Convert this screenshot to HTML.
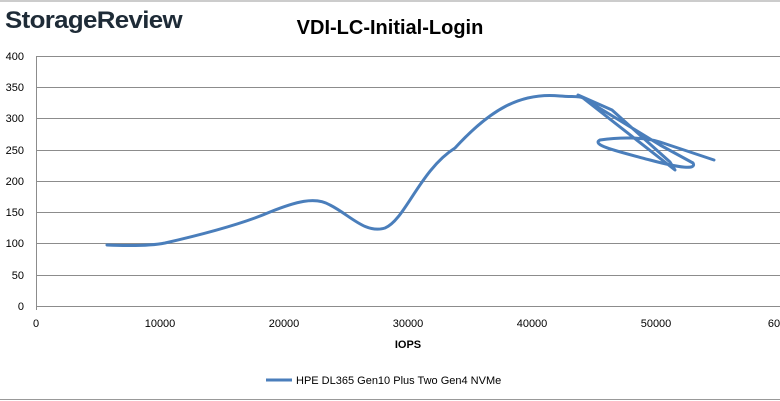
<!DOCTYPE html>
<html><head><meta charset="utf-8"><style>
body{margin:0;background:#fff;}
svg{display:block;font-family:"Liberation Sans",sans-serif;}
</style></head><body>
<svg width="780" height="401" viewBox="0 0 780 401">
<rect width="780" height="401" fill="#fff"/>
<line x1="0" y1="1" x2="780" y2="1" stroke="#999" stroke-width="1"/>
<line x1="0" y1="399.5" x2="780" y2="399.5" stroke="#999" stroke-width="1"/>
<text x="5" y="28" font-size="24" font-weight="bold" fill="#1e2b37" letter-spacing="-0.6" textLength="177" lengthAdjust="spacingAndGlyphs">StorageReview</text>
<text x="390" y="34" font-size="20" font-weight="bold" text-anchor="middle" fill="#000">VDI-LC-Initial-Login</text>
<g stroke="#8c8c8c" stroke-width="1">
<line x1="36" y1="56.5" x2="780" y2="56.5"/>
<line x1="36" y1="87.5" x2="780" y2="87.5"/>
<line x1="36" y1="118.5" x2="780" y2="118.5"/>
<line x1="36" y1="150.5" x2="780" y2="150.5"/>
<line x1="36" y1="181.5" x2="780" y2="181.5"/>
<line x1="36" y1="212.5" x2="780" y2="212.5"/>
<line x1="36" y1="243.5" x2="780" y2="243.5"/>
<line x1="36" y1="275.5" x2="780" y2="275.5"/>
<line x1="36" y1="306.5" x2="780" y2="306.5"/>
<line x1="36.5" y1="56" x2="36.5" y2="310"/>
</g>
<g font-size="11" fill="#000" text-anchor="end">
<text x="24" y="60">400</text><text x="24" y="91">350</text><text x="24" y="122">300</text>
<text x="24" y="154">250</text><text x="24" y="185">200</text><text x="24" y="216">150</text>
<text x="24" y="247">100</text><text x="24" y="279">50</text><text x="24" y="310">0</text>
</g>
<g font-size="11" fill="#000" text-anchor="middle">
<text x="36" y="327">0</text><text x="160" y="327">10000</text><text x="284" y="327">20000</text>
<text x="408" y="327">30000</text><text x="532" y="327">40000</text><text x="656" y="327">50000</text>
<text x="774" y="327">60</text>
</g>
<text x="408" y="348" font-size="11" font-weight="bold" text-anchor="middle">IOPS</text>
<line x1="266" y1="380" x2="292" y2="380" stroke="#4a7ebb" stroke-width="3"/>
<text x="296" y="384" font-size="11">HPE DL365 Gen10 Plus Two Gen4 NVMe</text>
<path d="M107,245 C130,246 150,246 165,243 C200,235 240,225 270,212 C295,202 315,196 330,205 C350,215 365,234 385,228 C405,220 420,170 455,148 C490,110 520,92 560,96 C572,97 580,96 583,98 L675,170 L670,162 L612,110 L578,95 L660,145 L693,163 C697,170 680,168 650,160 C620,152 590,145 600,140 C620,137 645,137 660,142 L714,160"
 fill="none" stroke="#4a7ebb" stroke-width="3" stroke-linejoin="round" stroke-linecap="round"/>
</svg>
</body></html>
